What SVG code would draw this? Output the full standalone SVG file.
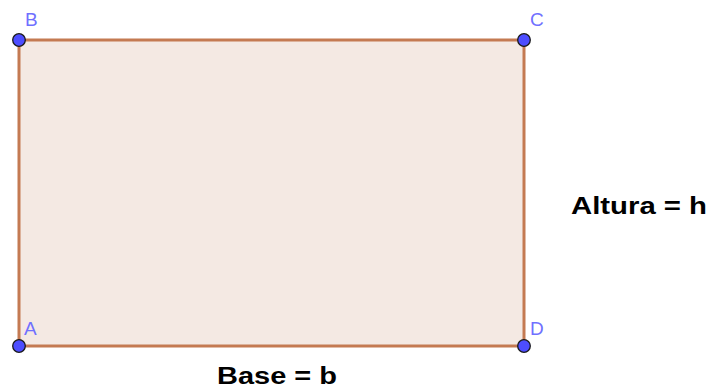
<svg xmlns="http://www.w3.org/2000/svg" width="713" height="388" viewBox="0 0 713 388">
<style>
.pt{fill:#4d4dff;stroke:#1a1a1a;stroke-width:1.3}
.lbl{font-family:"Liberation Sans",Arial,sans-serif;font-size:19px;fill:#7070ff}
.big{font-family:"Liberation Sans",Arial,sans-serif;font-size:23px;font-weight:bold;fill:#000}
</style>
<rect width="713" height="388" fill="#fff"/>
<g id="rectangle">
<rect x="19" y="40" width="505" height="306" fill="#f4e9e3" stroke="#c47a52" stroke-width="3"/>
</g>
<g id="B"><circle class="pt" cx="19" cy="40" r="6.3"/><text class="lbl" x="25" y="26">B</text></g>
<g id="C"><circle class="pt" cx="524" cy="40" r="6.3"/><text class="lbl" x="530" y="26">C</text></g>
<g id="A"><circle class="pt" cx="19" cy="346" r="6.3"/><text class="lbl" x="24" y="335">A</text></g>
<g id="D"><circle class="pt" cx="524" cy="346" r="6.3"/><text class="lbl" x="530" y="335">D</text></g>
<text class="big" x="571" y="214" textLength="136" lengthAdjust="spacingAndGlyphs">Altura = h</text>
<text class="big" x="217" y="384" textLength="120" lengthAdjust="spacingAndGlyphs">Base = b</text>
</svg>
